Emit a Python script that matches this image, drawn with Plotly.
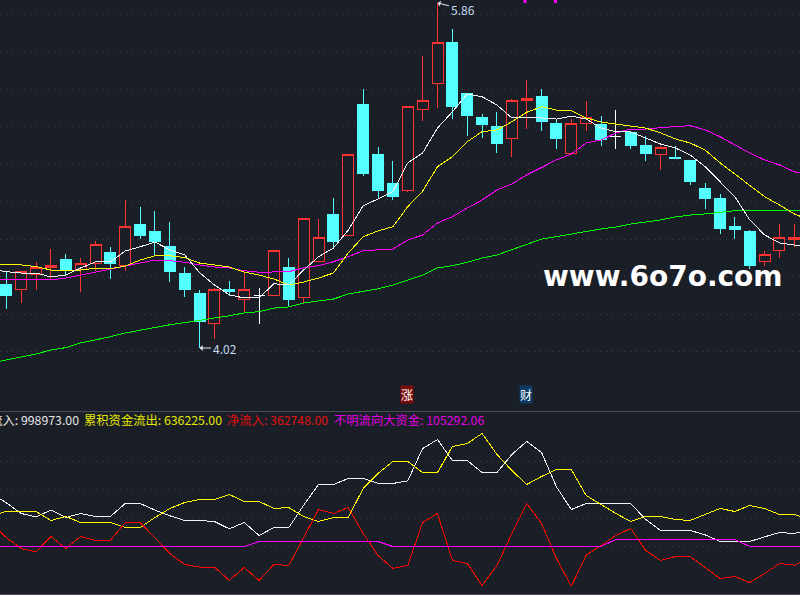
import plotly.graph_objects as go

BG = '#1a1e27'
GRID = '#41444c'
FONT = 'Noto Sans CJK SC'

opens = [4.36, 4.33, 4.41, 4.45, 4.49, 4.44, 4.47, 4.53, 4.46, 4.68, 4.64, 4.56, 4.42, 4.31, 4.15, 4.33, 4.28, 4.30,
         4.30, 4.45, 4.29, 4.48, 4.73, 4.62, 5.32, 5.05, 4.90, 4.86, 5.29, 5.43, 5.65, 5.38, 5.25, 5.20, 5.14, 5.34,
         5.36, 5.22, 5.06, 5.22, 5.21, 5.15, 5.17, 5.10, 5.05, 5.035, 5.02, 4.87, 4.82, 4.67, 4.64, 4.48, 4.54, 4.60]
highs = [4.43, 4.43, 4.48, 4.55, 4.52, 4.50, 4.59, 4.56, 4.81, 4.77, 4.75, 4.69, 4.45, 4.33, 4.34, 4.38, 4.42, 4.34,
         4.54, 4.50, 4.71, 4.71, 4.82, 5.05, 5.40, 5.09, 5.02, 5.31, 5.58, 5.86, 5.72, 5.38, 5.27, 5.28, 5.35, 5.45,
         5.40, 5.24, 5.24, 5.34, 5.26, 5.29, 5.17, 5.15, 5.10, 5.10, 5.02, 4.90, 4.84, 4.72, 4.65, 4.54, 4.68, 4.68]
lows = [4.23, 4.26, 4.33, 4.39, 4.41, 4.32, 4.43, 4.39, 4.43, 4.60, 4.51, 4.37, 4.29, 4.02, 4.07, 4.30, 4.21, 4.15,
        4.30, 4.24, 4.26, 4.48, 4.56, 4.62, 4.94, 4.82, 4.81, 4.85, 5.23, 5.30, 5.24, 5.15, 5.14, 5.06, 5.04, 5.19,
        5.18, 5.08, 5.05, 5.18, 5.10, 5.08, 5.08, 5.02, 4.97, 5.03, 4.89, 4.76, 4.63, 4.60, 4.44, 4.46, 4.50, 4.56]
closes = [4.30, 4.43, 4.45, 4.46, 4.44, 4.47, 4.57, 4.47, 4.67, 4.62, 4.59, 4.43, 4.33, 4.16, 4.33, 4.32, 4.33, 4.30,
          4.54, 4.28, 4.71, 4.61, 4.59, 5.05, 4.95, 4.86, 4.83, 5.31, 5.34, 5.65, 5.31, 5.26, 5.21, 5.11, 5.34, 5.35,
          5.23, 5.14, 5.22, 5.25, 5.13, 5.15, 5.10, 5.06, 5.09, 5.03, 4.91, 4.82, 4.66, 4.65, 4.46, 4.52, 4.61, 4.61]
doji = [17, 41]  # flat sessions, drawn white

# moving averages, first and last point sit just outside the window
ma5 = [4.441, 4.427, 4.42, 4.42, 4.399, 4.409, 4.447, 4.479, 4.479, 4.537, 4.56, 4.585, 4.543, 4.516, 4.422, 4.356,
       4.303, 4.287, 4.287, 4.363, 4.356, 4.436, 4.507, 4.553, 4.649, 4.779, 4.815, 4.854, 5.007, 5.06, 5.193, 5.28,
       5.375, 5.36, 5.316, 5.247, 5.248, 5.247, 5.241, 5.257, 5.241, 5.193, 5.174, 5.172, 5.14, 5.108, 5.087, 5.049,
       4.987, 4.907, 4.827, 4.703, 4.623, 4.58, 4.569, 4.569]
ma10 = [4.468, 4.464, 4.463, 4.454, 4.436, 4.436, 4.436, 4.445, 4.443, 4.457, 4.489, 4.512, 4.512, 4.502, 4.473,
        4.463, 4.452, 4.425, 4.409, 4.388, 4.356, 4.372, 4.393, 4.42, 4.527, 4.614, 4.644, 4.667, 4.774, 4.857, 4.987,
        5.04, 5.12, 5.174, 5.183, 5.227, 5.277, 5.307, 5.289, 5.286, 5.247, 5.225, 5.215, 5.204, 5.193, 5.167, 5.135,
        5.113, 5.076, 5.008, 4.948, 4.884, 4.827, 4.783, 4.735, 4.703]
ma20 = [4.388, 4.386, 4.383, 4.383, 4.383, 4.393, 4.409, 4.427, 4.441, 4.457, 4.475, 4.489, 4.486, 4.477, 4.463,
        4.452, 4.447, 4.432, 4.424, 4.424, 4.427, 4.447, 4.459, 4.48, 4.507, 4.539, 4.543, 4.548, 4.596, 4.623, 4.687,
        4.72, 4.767, 4.809, 4.863, 4.895, 4.943, 4.982, 5.023, 5.055, 5.113, 5.129, 5.167, 5.188, 5.188, 5.195, 5.202,
        5.206, 5.183, 5.147, 5.103, 5.06, 5.023, 4.996, 4.96, 4.943]
ma60 = [3.94, 3.956, 3.974, 3.988, 4.009, 4.022, 4.047, 4.063, 4.08, 4.10, 4.116, 4.132, 4.144, 4.155, 4.166, 4.18,
        4.192, 4.207, 4.214, 4.233, 4.239, 4.26, 4.271, 4.281, 4.308, 4.32, 4.336, 4.356, 4.383, 4.409, 4.447, 4.459,
        4.477, 4.50, 4.516, 4.543, 4.573, 4.601, 4.614, 4.628, 4.639, 4.655, 4.665, 4.681, 4.692, 4.703, 4.719, 4.729,
        4.735, 4.742, 4.752, 4.754, 4.754, 4.754, 4.754, 4.754]

# fund flow pane, thousands
flow_in = [933, 769, 581, 522, 640, 510, 581, 528, 528, 757, 757, 640, 540, 458, 458, 440, 311, 422, 194, 334, 334,
           727, 1091, 1091, 1197, 1197, 1109, 1109, 1156, 1725, 1883, 1514, 1514, 1302, 1302, 1619, 1848, 1654, 1050,
           651, 757, 757, 757, 757, 475, 282, 282, 282, 205, 88, 88, 88, 170, 246, 229, 299]
flow_out = [546, 616, 616, 616, 458, 528, 422, 422, 422, 334, 334, 510, 669, 774, 827, 827, 915, 792, 792, 669, 686,
            528, 440, 510, 510, 1021, 1285, 1496, 1496, 1302, 1302, 1760, 1813, 1989, 1619, 1338, 1091, 1232, 1355,
            1355, 898, 739, 581, 440, 528, 528, 475, 458, 563, 669, 616, 722, 669, 563, 563, 475]
flow_net = [405, 158, -35, -94, 176, -35, 176, 106, 106, 422, 422, 141, -123, -317, -364, -364, -598, -370, -598,
            -317, -334, 158, 651, 581, 686, 229, -158, -387, -334, 422, 581, -246, -299, -686, -334, 229, 757, 405,
            -211, -698, -153, 18, 194, 317, -70, -246, -176, -176, -370, -563, -528, -634, -475, -299, -329, -211]
flow_big = [0, 0, 0, 0, 0, 0, 0, 0, 0, 0, 0, 0, 0, 0, 0, 0, 0, 0, 88, 88, 88, 88, 88, 88, 88, 88, 88, 0, 0, 0, 0, 0,
            0, 0, 0, 0, 0, 0, 0, 0, 0, 0, 123, 123, 123, 123, 123, 123, 123, 123, 123, 0, 0, 0, 0, 0]

legend_items = [
    ('累积资金流入: 998973.00', '#e6e6e6', 79, 'right'),
    ('累积资金流出: 636225.00', '#e6e600', 84, 'left'),
    ('净流入: 362748.00', '#e01010', 227, 'left'),
    ('不明流向大资金: 105292.06', '#e000e0', 334, 'left'),
]

bars = list(range(len(opens)))
line_x = list(range(-1, len(opens) + 1))
plain = [i for i in bars if i not in doji]


def pick(values, idx):
    return [values[i] for i in idx]


fig = go.Figure()

fig.add_trace(go.Candlestick(
    x=plain, open=pick(opens, plain), high=pick(highs, plain), low=pick(lows, plain), close=pick(closes, plain),
    increasing=dict(line=dict(color='#ff3232', width=1), fillcolor=BG),
    decreasing=dict(line=dict(color='#54ffff', width=1), fillcolor='#54ffff'),
    whiskerwidth=0, xaxis='x', yaxis='y',
))
fig.add_trace(go.Candlestick(
    x=doji, open=pick(opens, doji), high=pick(highs, doji), low=pick(lows, doji), close=pick(closes, doji),
    increasing=dict(line=dict(color='#ffffff', width=1), fillcolor='#ffffff'),
    decreasing=dict(line=dict(color='#ffffff', width=1), fillcolor='#ffffff'),
    whiskerwidth=0, xaxis='x', yaxis='y',
))

for values, color in [(ma60, '#00ff00'), (ma20, '#ff00ff'), (ma10, '#ffff00'), (ma5, '#f2f2f2')]:
    fig.add_trace(go.Scatter(x=line_x, y=values, mode='lines', line=dict(color=color, width=1), xaxis='x', yaxis='y'))

for values, color in [(flow_in, '#f2f2f2'), (flow_out, '#ffff00'), (flow_net, '#ff0000'), (flow_big, '#ff00ff')]:
    fig.add_trace(go.Scatter(x=line_x, y=values, mode='lines', line=dict(color=color, width=1), xaxis='x2', yaxis='y2'))

fig.update_layout(
    width=800, height=595,
    margin=dict(l=0, r=0, t=0, b=0),
    paper_bgcolor=BG, plot_bgcolor=BG,
    showlegend=False, hovermode=False,
    boxmode='overlay', boxgap=0.26, boxgroupgap=0,
    xaxis=dict(range=[-0.424, 53.38], visible=False, rangeslider=dict(visible=False), anchor='y'),
    xaxis2=dict(range=[-0.424, 53.38], visible=False, anchor='y2'),
    yaxis=dict(
        domain=[184 / 595, 1], range=[3.684, 5.876], showticklabels=False, zeroline=False, ticks='',
        tickvals=[4.0, 4.2, 4.4, 4.6, 4.8, 5.0, 5.2, 5.4, 5.6, 5.8],
        showgrid=True, gridcolor=GRID, gridwidth=1, griddash='1px,5px',
    ),
    yaxis2=dict(
        domain=[1 / 595, 183 / 595], range=[-836, 2367], showticklabels=False, zeroline=False, ticks='',
        tickvals=[0, 500, 1000, 1500],
        showgrid=True, gridcolor=GRID, gridwidth=1, griddash='1px,5px',
    ),
)

# pane separators
for py in [183.5, 0.5]:
    fig.add_shape(type='line', xref='paper', yref='paper', x0=0, x1=1, y0=py / 595, y1=py / 595,
                  line=dict(color='#4a4d55', width=1))

# clipped marks at the top edge
for px in [525, 555.5]:
    fig.add_shape(type='rect', xref='paper', yref='paper', x0=(px - 1.5) / 800, x1=(px + 1.5) / 800,
                  y0=1 - 3 / 595, y1=1, fillcolor='#ff00ff', line=dict(width=0))

# high and low markers
fig.add_annotation(x=29, y=5.86, xref='x', yref='y', text='5.86', showarrow=True, arrowhead=1, arrowsize=1,
                   arrowwidth=1, arrowcolor='#e6e6e6', ax=25, ay=6, font=dict(family=FONT, size=12, color='#c8dcf0'))
fig.add_annotation(x=13, y=4.02, xref='x', yref='y', text='4.02', showarrow=True, arrowhead=1, arrowsize=1,
                   arrowwidth=1, arrowcolor='#e6e6e6', ax=25, ay=0, font=dict(family=FONT, size=12, color='#c8dcf0'))

# event tags
fig.add_annotation(x=407 / 800, y=1 - 403.5 / 595, xref='paper', yref='paper', text='涨', showarrow=False,
                   xanchor='center', bgcolor='#7a0c0c', font=dict(family=FONT, size=12, color='#ffffff'), borderpad=0)
fig.add_annotation(x=526 / 800, y=1 - 403.5 / 595, xref='paper', yref='paper', text='财', showarrow=False,
                   xanchor='center', bgcolor='#0c3a66', font=dict(family=FONT, size=12, color='#ffffff'), borderpad=0)

for text, color, px, anchor in legend_items:
    fig.add_annotation(x=px / 800, y=1 - 420 / 595, xref='paper', yref='paper', text=text, showarrow=False,
                       xanchor=anchor, yanchor='middle', font=dict(family=FONT, size=12.3, color=color), borderpad=0,
                       borderwidth=0)

fig.add_annotation(x=663 / 800, y=1 - 276 / 595, xref='paper', yref='paper', text='www.6o7o.com', showarrow=False,
                   xanchor='center', font=dict(family='DejaVu Sans', size=28, color='#ffffff', weight='bold'))

# zero page margin for the fixed-size figure, and hard-edged lines like the terminal draws
page_js = (
    "document.body.style.margin='0';document.body.style.overflow='hidden';"
    "var s=document.createElement('style');"
    "s.textContent='.scatterlayer path,.boxlayer path{shape-rendering:crispEdges !important}';"
    "document.head.appendChild(s);"
)
fig.write_html("out.html", post_script=page_js, config=dict(displayModeBar=False))
